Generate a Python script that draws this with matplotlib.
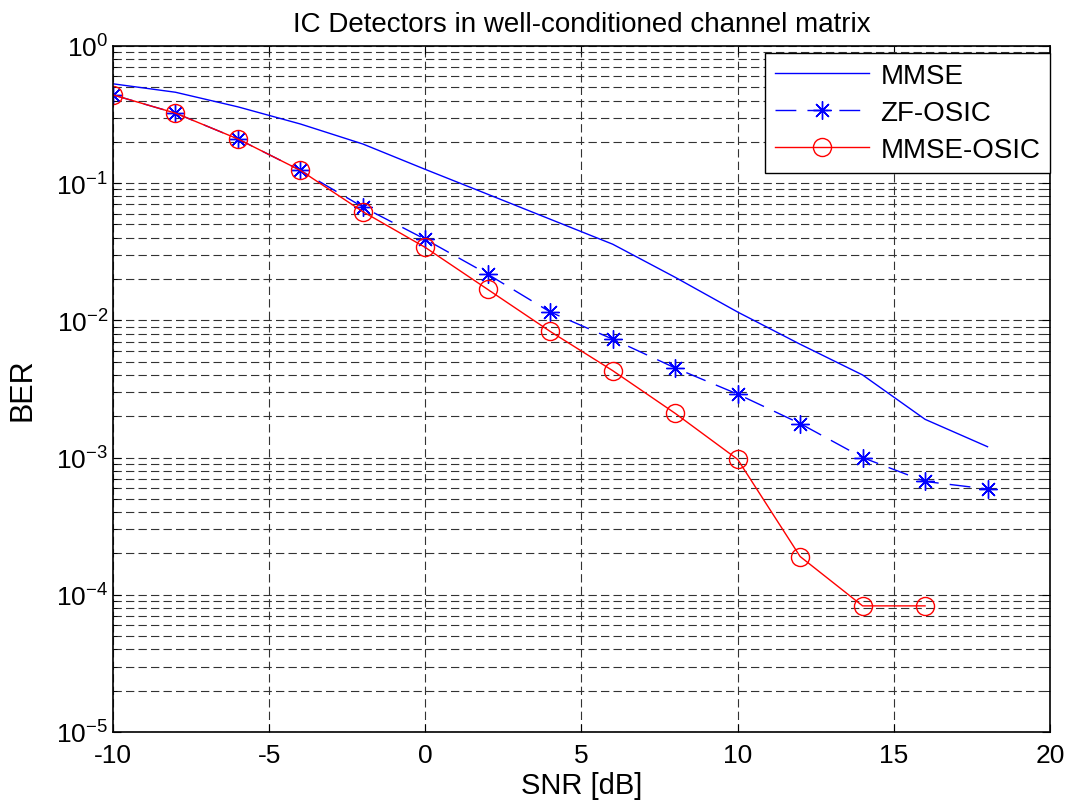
#Script to redraw BER curves of IC detectors in a well-conditioned channel matrix

import numpy as np
import matplotlib
matplotlib.use('Agg')
import matplotlib.pyplot as plt
from matplotlib.ticker import LogLocator, NullFormatter

#Data
snr = [-10, -8, -6, -4, -2, 0, 2, 4, 6, 8, 10, 12, 14, 16, 18]
ber_mmse = [0.53, 0.46, 0.36, 0.27, 0.193, 0.126, 0.083, 0.0546, 0.0359, 0.0206,
            0.0115, 0.0067, 0.0040, 0.0019, 0.0012]
ber_zf_osic = [0.44, 0.324, 0.21, 0.124, 0.067, 0.039, 0.0217, 0.0115, 0.0073, 0.0045,
               0.0029, 0.00177, 0.0010, 0.00067, 0.00059]
snr_mmse_osic = [-10, -8, -6, -4, -2, 0, 2, 4, 6, 8, 10, 12, 14, 16]
ber_mmse_osic = [0.44, 0.324, 0.21, 0.124, 0.062, 0.034, 0.0168, 0.0083, 0.0043, 0.0021,
                 0.00097, 0.00019, 0.000083, 0.000083]

plt.rcParams['font.family'] = ['Liberation Sans', 'DejaVu Sans']
plt.rcParams['mathtext.fontset'] = 'custom'
plt.rcParams['mathtext.rm'] = 'Liberation Sans'
plt.rcParams['mathtext.it'] = 'Liberation Sans'
plt.rcParams['mathtext.default'] = 'regular'
plt.rcParams['lines.scale_dashes'] = False

fig = plt.figure(figsize=(10.71, 8.03), dpi=100)
ax = fig.add_axes([0.1055, 0.0872, 0.8749, 0.8543])

#the three curves
ax.semilogy(snr, ber_mmse, color='#0000ff', lw=1.0, label='MMSE')
ax.semilogy(snr, ber_zf_osic, color='#0000ff', lw=1.0, dashes=(15, 8),
            marker=(8, 2, 0), markersize=13, markeredgewidth=1.0, label='ZF-OSIC')
ax.semilogy(snr_mmse_osic, ber_mmse_osic, color='#ff0000', lw=1.0, marker='o',
            markersize=13, markerfacecolor='none', markeredgewidth=1.0, label='MMSE-OSIC')

#axes limits and ticks (matlab look)
ax.set_xlim(-10, 20)
ax.set_ylim(1e-5, 1)
ax.set_xticks([-10, -5, 0, 5, 10, 15, 20])
ax.set_xticklabels(['-10', '-5', '0', '5', '10', '15', '20'])
ax.yaxis.set_major_locator(LogLocator(base=10, numticks=10))
ax.yaxis.set_minor_locator(LogLocator(base=10, subs=np.arange(2, 10), numticks=20))
ax.yaxis.set_minor_formatter(NullFormatter())
ax.tick_params(which='both', direction='in', top=True, right=True, labelsize=19)
ax.tick_params(which='major', length=6, width=0.8)
ax.tick_params(which='minor', length=3, width=0.6)
ax.tick_params(axis='x', pad=8)

#dashed grid on major and minor
ax.grid(True, which='major', color='0.2', lw=0.8, dashes=(6, 3))
ax.grid(True, which='minor', axis='y', color='0.2', lw=0.8, dashes=(6, 3))
ax.set_axisbelow(True)
for s in ax.spines.values():
    s.set_linewidth(1.2)

#title and labels
ax.set_title('IC Detectors in well-conditioned channel matrix', fontsize=20, pad=11)
ax.set_xlabel('SNR [dB]', fontsize=21, labelpad=3)
ax.set_ylabel('BER', fontsize=22, labelpad=13)

leg = ax.legend(loc='upper right', bbox_to_anchor=(1.0, 0.99), borderaxespad=0,
                fontsize=20, fancybox=False, edgecolor='k', framealpha=1,
                handlelength=3.4, handletextpad=0.4, labelspacing=0.4,
                borderpad=0.35)
leg.get_frame().set_linewidth(1.0)

plt.savefig('out.png', dpi=100)
